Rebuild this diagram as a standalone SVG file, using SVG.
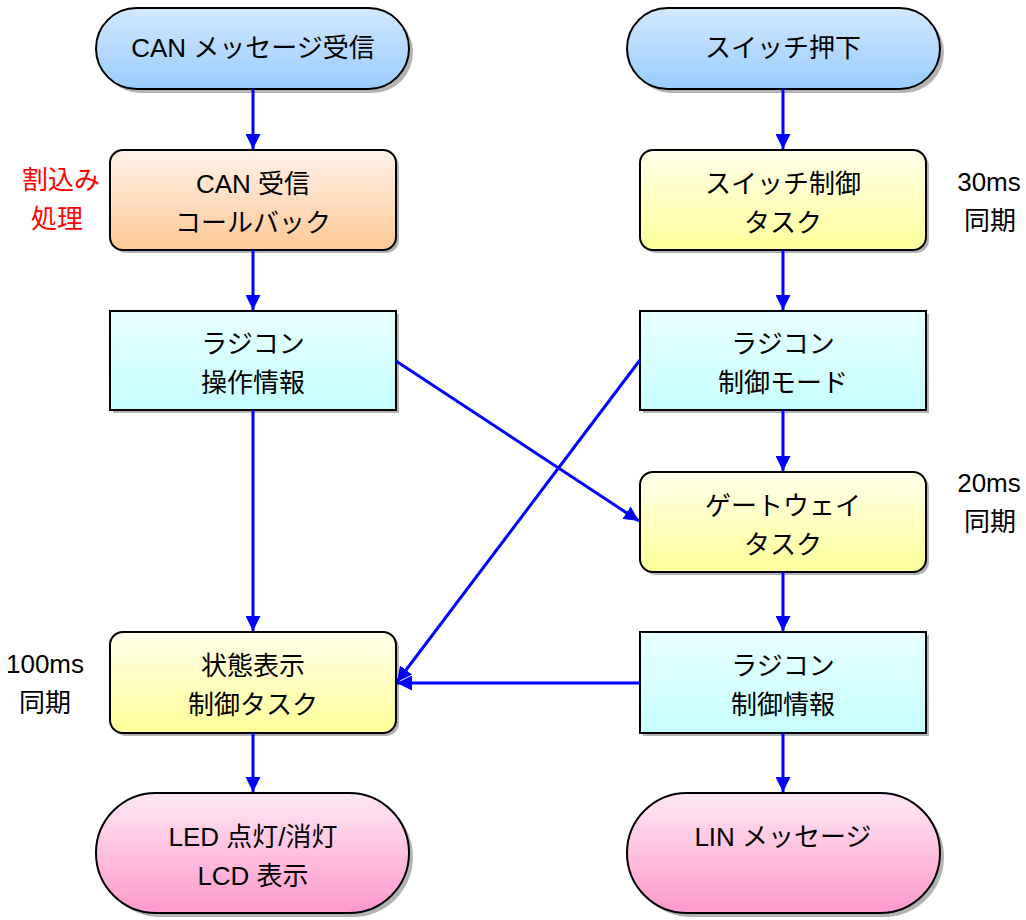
<svg xmlns="http://www.w3.org/2000/svg" width="1026" height="920" viewBox="0 0 1026 920">
<style>
text{font-family:"Liberation Sans","Noto Sans CJK JP",sans-serif;font-size:26px;fill:#000;text-anchor:middle}
.red{fill:#ff0000}
.shape{stroke:#000;stroke-width:2}
.sh{fill:#a0a0a0;opacity:0.8}
.con{stroke:#0000ff;stroke-width:3;fill:none;marker-end:url(#ah)}
</style>
<defs>
<linearGradient id="gBlue" x1="0" y1="0" x2="0" y2="1"><stop offset="0" stop-color="#d2e8ff"/><stop offset="1" stop-color="#99ccff"/></linearGradient>
<linearGradient id="gOrange" x1="0" y1="0" x2="0" y2="1"><stop offset="0" stop-color="#fff2ea"/><stop offset="1" stop-color="#ffc995"/></linearGradient>
<linearGradient id="gCyan" x1="0" y1="0" x2="0" y2="1"><stop offset="0" stop-color="#e8ffff"/><stop offset="1" stop-color="#c6ffff"/></linearGradient>
<linearGradient id="gYellow" x1="0" y1="0" x2="0" y2="1"><stop offset="0" stop-color="#ffffea"/><stop offset="1" stop-color="#ffff99"/></linearGradient>
<linearGradient id="gPink" x1="0" y1="0" x2="0" y2="1"><stop offset="0" stop-color="#ffe8f4"/><stop offset="1" stop-color="#ff99cc"/></linearGradient>
<marker id="ah" markerWidth="5" markerHeight="5" refX="5" refY="2.5" orient="auto" markerUnits="strokeWidth"><path d="M0,0 L5,2.5 L0,5 Z" fill="#0000ff"/></marker>
</defs>

<g id="n1">
<rect class="sh" x="100" y="12" width="313" height="81" rx="40.5"/>
<rect class="shape" x="96" y="8" width="313" height="81" rx="40.5" fill="url(#gBlue)"/>
<text x="253" y="57">CAN メッセージ受信</text>
</g>
<g id="n2">
<rect class="sh" x="631" y="12" width="313" height="81" rx="40.5"/>
<rect class="shape" x="627" y="8" width="313" height="81" rx="40.5" fill="url(#gBlue)"/>
<text x="783" y="57">スイッチ押下</text>
</g>

<g id="n3">
<rect class="sh" x="113" y="153" width="286" height="100" rx="13"/>
<rect class="shape" x="110" y="150" width="286" height="100" rx="13" fill="url(#gOrange)"/>
<text x="253" y="193">CAN 受信</text>
<text x="253" y="232">コールバック</text>
</g>
<g id="n4">
<rect class="sh" x="643" y="153" width="286" height="100" rx="13"/>
<rect class="shape" x="640" y="150" width="286" height="100" rx="13" fill="url(#gYellow)"/>
<text x="783" y="193">スイッチ制御</text>
<text x="783" y="232">タスク</text>
</g>

<g id="n5">
<rect class="sh" x="113" y="314" width="286" height="99"/>
<rect class="shape" x="110" y="311" width="286" height="99" fill="url(#gCyan)"/>
<text x="253" y="353">ラジコン</text>
<text x="253" y="392">操作情報</text>
</g>
<g id="n6">
<rect class="sh" x="643" y="314" width="286" height="99"/>
<rect class="shape" x="640" y="311" width="286" height="99" fill="url(#gCyan)"/>
<text x="783" y="353">ラジコン</text>
<text x="783" y="392">制御モード</text>
</g>

<g id="n7">
<rect class="sh" x="643" y="475" width="286" height="100" rx="13"/>
<rect class="shape" x="640" y="472" width="286" height="100" rx="13" fill="url(#gYellow)"/>
<text x="783" y="515">ゲートウェイ</text>
<text x="783" y="554">タスク</text>
</g>

<g id="n8">
<rect class="sh" x="113" y="635" width="286" height="101" rx="13"/>
<rect class="shape" x="110" y="632" width="286" height="101" rx="13" fill="url(#gYellow)"/>
<text x="253" y="675">状態表示</text>
<text x="253" y="714">制御タスク</text>
</g>
<g id="n9">
<rect class="sh" x="643" y="635" width="286" height="101"/>
<rect class="shape" x="640" y="632" width="286" height="101" fill="url(#gCyan)"/>
<text x="783" y="675">ラジコン</text>
<text x="783" y="714">制御情報</text>
</g>

<g id="n10">
<rect class="sh" x="100" y="797" width="313" height="120" rx="60"/>
<rect class="shape" x="96" y="793" width="313" height="120" rx="60" fill="url(#gPink)"/>
<text x="253" y="846">LED 点灯/消灯</text>
<text x="253" y="885">LCD 表示</text>
</g>
<g id="n11">
<rect class="sh" x="631" y="797" width="313" height="120" rx="60"/>
<rect class="shape" x="627" y="793" width="313" height="120" rx="60" fill="url(#gPink)"/>
<text x="783" y="846">LIN メッセージ</text>
</g>

<g id="labels">
<text class="red" x="61" y="189">割込み</text>
<text class="red" x="57" y="228">処理</text>
<text x="989" y="191">30ms</text>
<text x="990" y="230">同期</text>
<text x="989" y="492">20ms</text>
<text x="990" y="531">同期</text>
<text x="45" y="673">100ms</text>
<text x="45" y="712">同期</text>
</g>

<g id="connectors">
<line class="con" x1="253" y1="89" x2="253" y2="149"/>
<line class="con" x1="253" y1="250" x2="253" y2="310"/>
<line class="con" x1="253" y1="410" x2="253" y2="631"/>
<line class="con" x1="253" y1="733" x2="253" y2="792"/>
<line class="con" x1="783" y1="89" x2="783" y2="149"/>
<line class="con" x1="783" y1="250" x2="783" y2="310"/>
<line class="con" x1="783" y1="410" x2="783" y2="471"/>
<line class="con" x1="783" y1="572" x2="783" y2="631"/>
<line class="con" x1="783" y1="733" x2="783" y2="792"/>
<line class="con" x1="396" y1="361" x2="639" y2="521"/>
<line class="con" x1="640" y1="360" x2="397" y2="682"/>
<line class="con" x1="640" y1="683" x2="397" y2="683"/>
</g>
</svg>
